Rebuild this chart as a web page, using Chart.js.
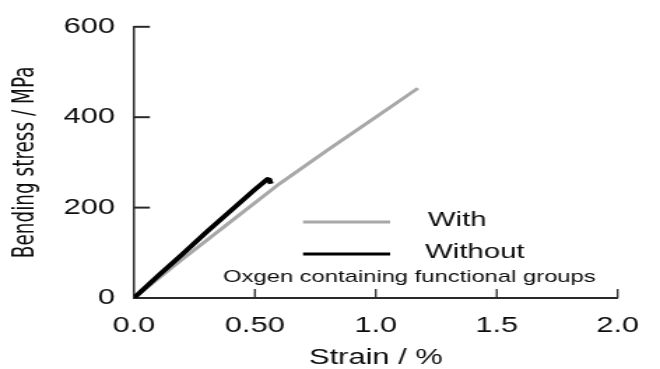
<!DOCTYPE html>
<html>
<head>
<meta charset="utf-8">
<script src="https://cdn.jsdelivr.net/npm/chart.js@4.4.1/dist/chart.umd.min.js"></script>
<style>
  html, body { margin: 0; padding: 0; background: #fff; overflow: hidden; }
  /* the reference picture is stretched sideways, so the chart is drawn narrow and widened */
  #wrap { width: 472px; height: 369px; transform: scaleX(1.3983); transform-origin: 0 0; }
</style>
</head>
<body>
<div id="wrap"><canvas id="myChart" width="472" height="369"></canvas></div>
<script>
// strain (%) / bending stress (MPa)
const withStrain = [0, 0.2, 0.4, 0.6, 0.8, 1.0, 1.174]
const withStress = [0, 86, 169, 252, 327, 400, 464]
const withoutStrain = [0, 0.1, 0.2, 0.3, 0.4, 0.5, 0.552, 0.56, 0.566]
const withoutStress = [0, 49, 97, 146, 193, 240, 263, 262, 253]

const xTickValues = [0, 0.5, 1.0, 1.5, 2.0]
const xTickLabels = ['0.0', '0.50', '1.0', '1.5', '2.0']
const yTickValues = [0, 200, 400, 600]

const seriesNames = ['With', 'Without']
const noteText = 'Oxgen containing functional groups'

const FONT = '"Liberation Sans", Arial, Helvetica, sans-serif'
const NARROW = '"Liberation Sans Narrow", "Arial Narrow", "DejaVu Sans Condensed", sans-serif'
const INK = '#0d0d0d'
const GRAY = '#a8a8a8'

const toPoints = (xs, ys) => xs.map((x, i) => ({ x: x, y: ys[i] }))

// inward tick marks + the little legend sitting in the plot
const extras = {
  id: 'extras',
  afterDraw(chart) {
    const ctx = chart.ctx
    const xs = chart.scales.x
    const ys = chart.scales.y
    ctx.save()
    ctx.strokeStyle = '#2a2a2a'
    ctx.lineWidth = 1.3
    xTickValues.slice(1).forEach(v => {
      const px = xs.getPixelForValue(v)
      ctx.beginPath()
      ctx.moveTo(px, ys.bottom)
      ctx.lineTo(px, ys.bottom - 9)
      ctx.stroke()
    })
    ctx.lineWidth = 2
    yTickValues.slice(1).forEach(v => {
      const py = ys.getPixelForValue(v)
      ctx.beginPath()
      ctx.moveTo(xs.left, py)
      ctx.lineTo(xs.left + 11.4, py)
      ctx.stroke()
    })

    const colors = [GRAY, '#000']
    const rows = [222, 254]
    const textX = [306, 304]
    ctx.font = '21px ' + FONT
    ctx.textBaseline = 'middle'
    ctx.textAlign = 'left'
    seriesNames.forEach((name, i) => {
      ctx.strokeStyle = colors[i]
      ctx.lineWidth = 3
      ctx.beginPath()
      ctx.moveTo(216.7, rows[i])
      ctx.lineTo(279, rows[i])
      ctx.stroke()
      ctx.fillStyle = INK
      ctx.fillText(name, textX[i], rows[i] - 2)
    })
    ctx.font = '17px ' + FONT
    ctx.fillText(noteText, 159.5, 277)
    ctx.restore()
  }
}

const ctx = document.getElementById('myChart')
const myChart = new Chart(ctx, {
  type: 'scatter',
  data: {
    datasets: [
      {
        label: seriesNames[0],
        data: toPoints(withStrain, withStress),
        showLine: true,
        borderColor: GRAY,
        borderWidth: 3,
        pointRadius: 0,
        tension: 0,
        order: 1
      },
      {
        label: seriesNames[1],
        data: toPoints(withoutStrain, withoutStress),
        showLine: true,
        borderColor: '#000',
        borderWidth: 4,
        borderJoinStyle: 'round',
        pointRadius: 0,
        tension: 0,
        order: 0
      }
    ]
  },
  options: {
    responsive: false,
    animation: false,
    layout: { padding: { left: 0, top: 25, right: 23.5, bottom: 0 } },
    plugins: {
      legend: { display: false },
      tooltip: { enabled: false }
    },
    scales: {
      x: {
        type: 'linear',
        min: 0,
        max: 2,
        afterFit: (scale) => { scale.height = 71 },
        afterBuildTicks: (scale) => { scale.ticks = xTickValues.map(v => ({ value: v })) },
        grid: { display: false, drawTicks: false },
        border: { display: true, color: '#2a2a2a', width: 2 },
        ticks: {
          padding: 15,
          color: INK,
          font: { family: FONT, size: 22 },
          callback: (v) => {
            const i = xTickValues.indexOf(v)
            return i >= 0 ? xTickLabels[i] : ''
          }
        },
        title: {
          display: true,
          text: 'Strain / %',
          color: INK,
          font: { family: FONT, size: 22, lineHeight: 1 },
          padding: { top: 0, bottom: 0 }
        }
      },
      y: {
        min: 0,
        max: 600,
        afterFit: (scale) => { scale.width = 95.8 },
        afterBuildTicks: (scale) => { scale.ticks = yTickValues.map(v => ({ value: v })) },
        grid: { display: false, drawTicks: false },
        border: { display: true, color: '#2a2a2a', width: 1.5 },
        ticks: {
          padding: 13.6,
          color: INK,
          font: { family: FONT, size: 22 }
        },
        title: {
          display: true,
          text: 'Bending stress / MPa',
          color: INK,
          font: { family: NARROW, size: 20.5, lineHeight: 1.2 },
          padding: { top: 6.5, bottom: 0 }
        }
      }
    }
  },
  plugins: [extras]
})
</script>
</body>
</html>
